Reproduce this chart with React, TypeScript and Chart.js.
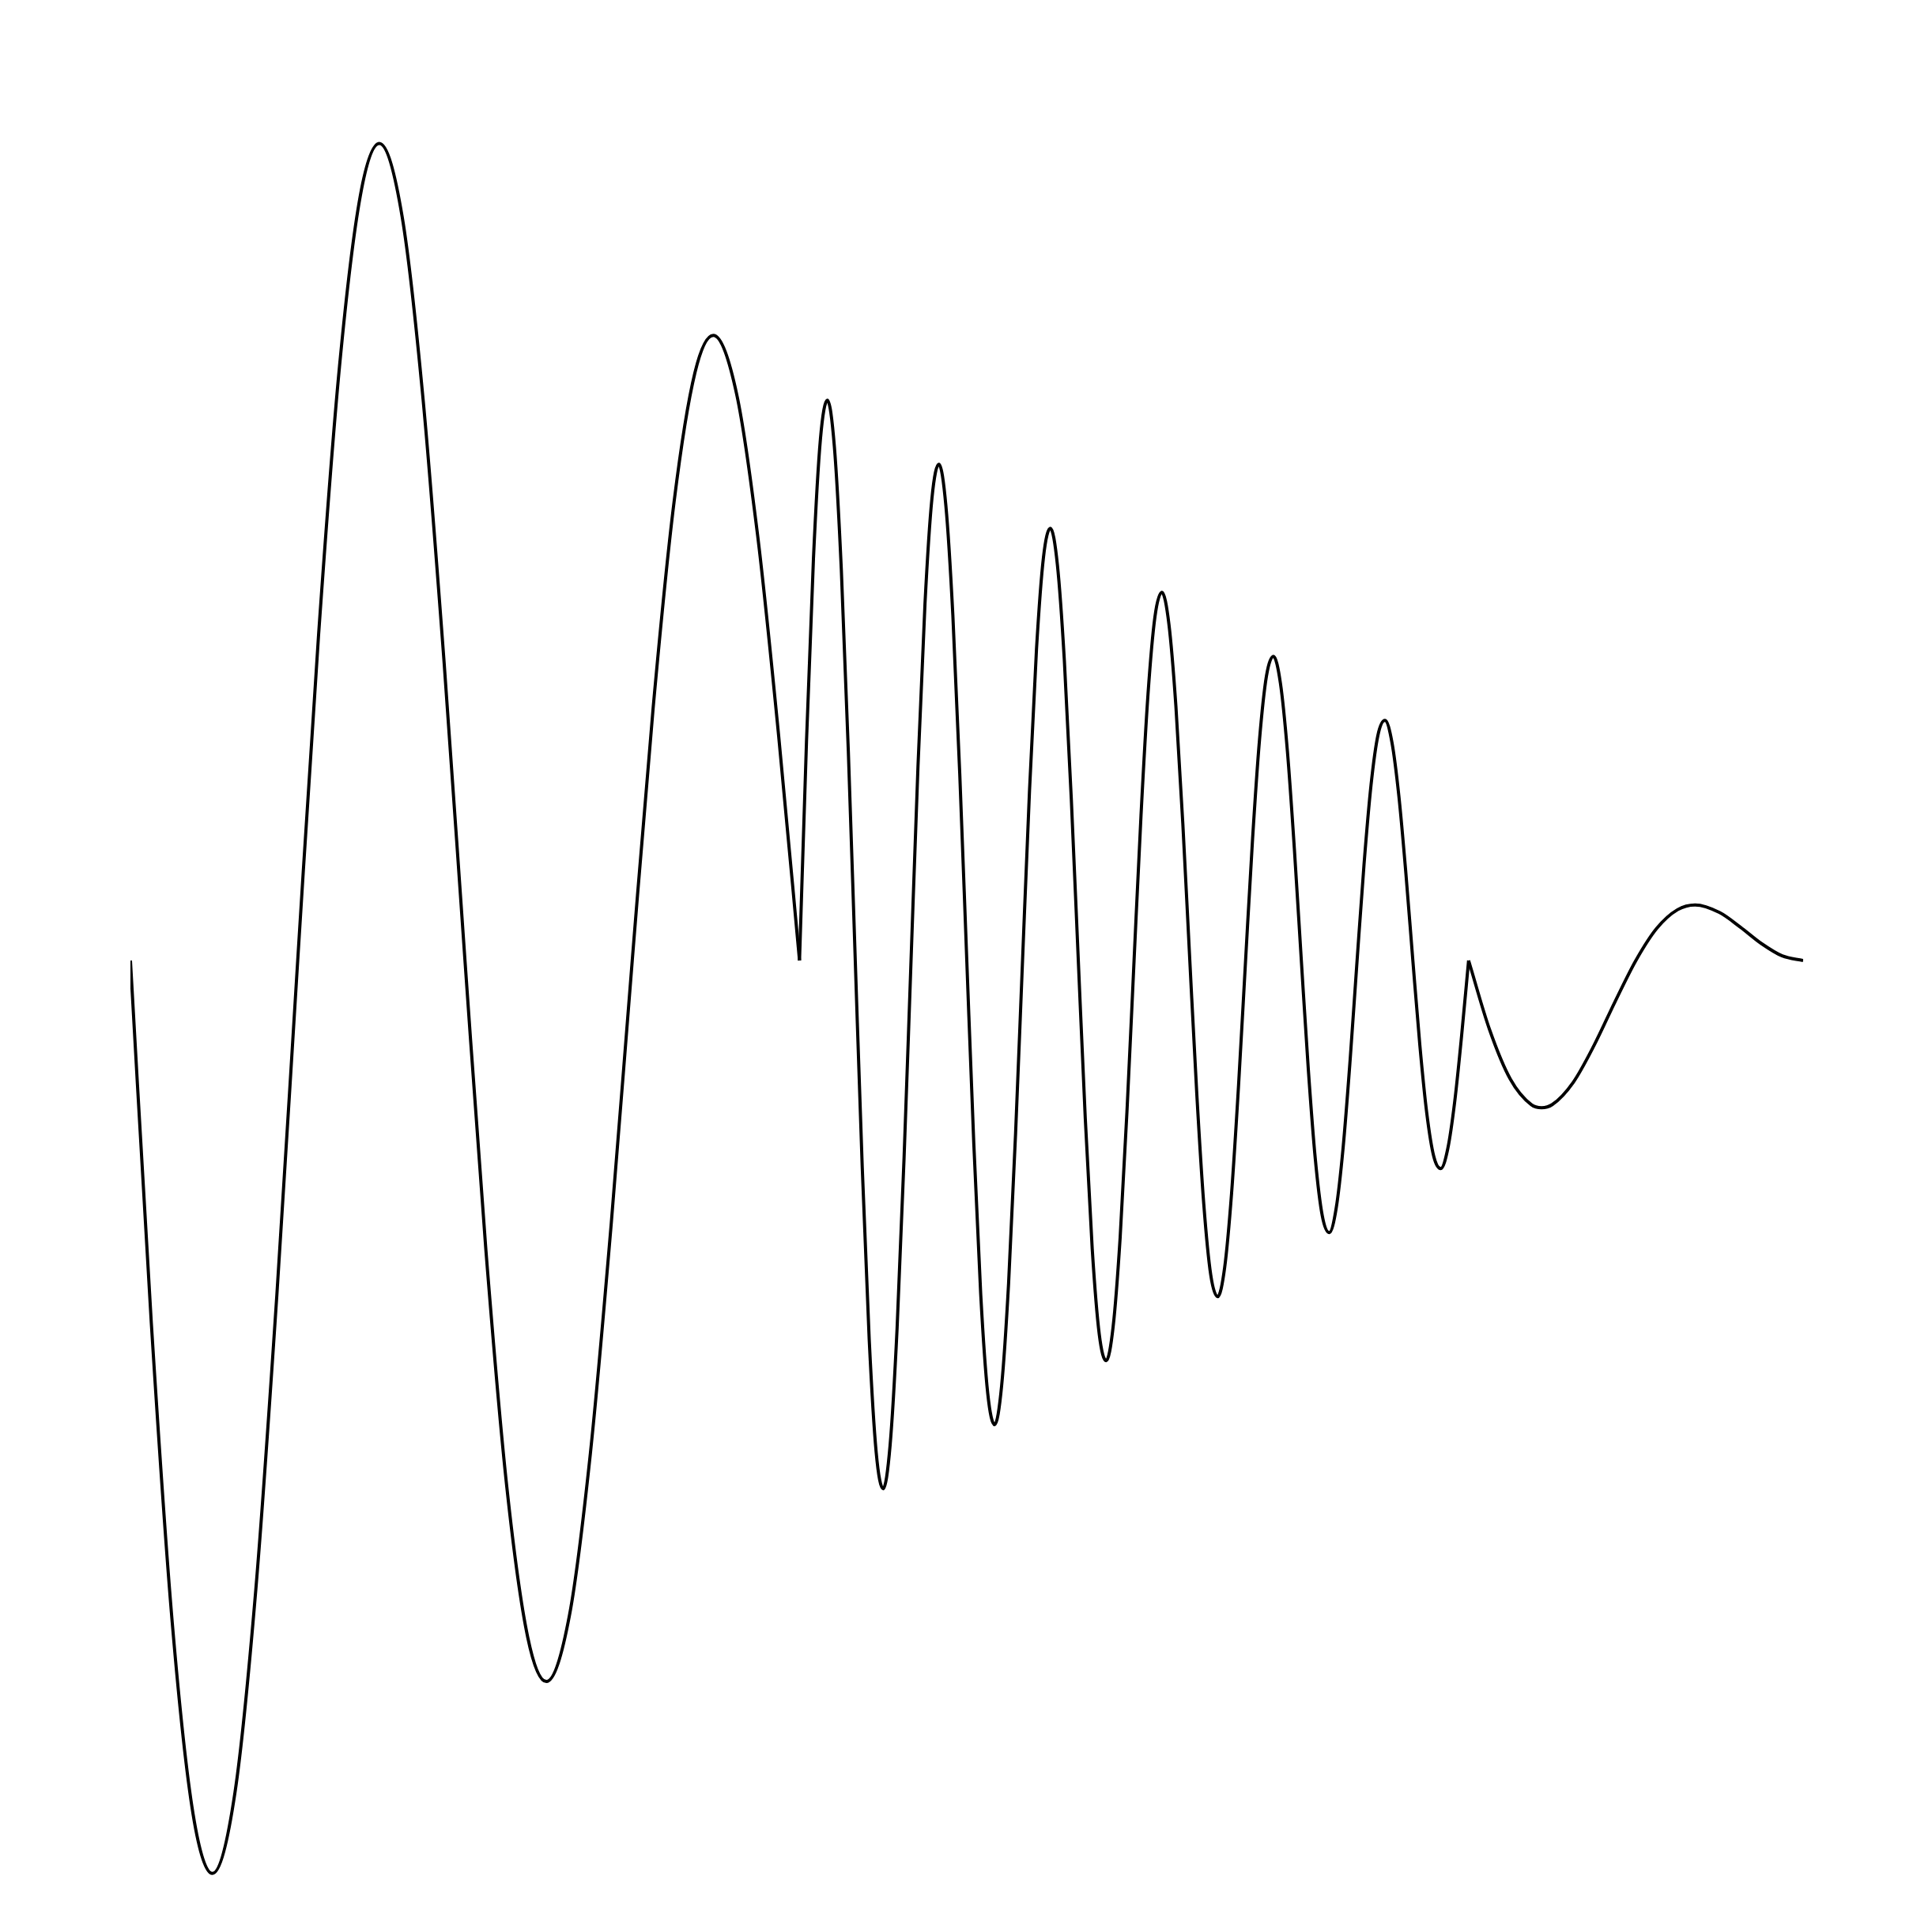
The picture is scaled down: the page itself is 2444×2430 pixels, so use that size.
import React, { useEffect, useRef } from "react";
import { Chart, registerables } from "chart.js";

Chart.register(...registerables);

// First stretch: slow oscillation (time, amplitude)
const SEG1_X = [
  0, 0.125, 0.25, 0.375, 0.4893, 0.625, 0.75, 0.875, 1, 1.125, 1.25, 1.375, 1.4881, 1.625, 1.75, 1.875,
  2, 2.125, 2.25, 2.375, 2.4865, 2.625, 2.75, 2.875, 3, 3.125, 3.25, 3.375, 3.4844, 3.625, 3.75, 3.875, 4,
];
const SEG1_Y = [
  0, -0.3779, -0.6894, -0.8892, -0.9505, -0.8662, -0.6541, -0.3492, 0, 0.3396, 0.6187, 0.7969, 0.8506, 0.7738, 0.5834, 0.3109,
  0, -0.3014, -0.548, -0.7045, -0.7507, -0.6814, -0.5127, -0.2727, 0, 0.2631, 0.4773, 0.6121, 0.6508, 0.589, 0.4419, 0.2344, 0,
];

// Second stretch: fast oscillation
const SEG2_X = [
  4, 4.0417, 4.0833, 4.125, 4.1667, 4.2083, 4.25, 4.2917, 4.3333, 4.375, 4.4167, 4.4583,
  4.5, 4.5417, 4.5833, 4.625, 4.6667, 4.7083, 4.75, 4.7917, 4.8333, 4.875, 4.9167, 4.9583,
  5, 5.0417, 5.0833, 5.125, 5.1667, 5.2083, 5.25, 5.2917, 5.3333, 5.375, 5.4167, 5.4583,
  5.5, 5.5417, 5.5833, 5.625, 5.6667, 5.7083, 5.75, 5.7917, 5.8333, 5.875, 5.9167, 5.9583,
  6, 6.0417, 6.0833, 6.125, 6.1667, 6.2083, 6.25, 6.2917, 6.3333, 6.375, 6.4167, 6.4583,
  6.5, 6.5417, 6.5833, 6.625, 6.6667, 6.7083, 6.75, 6.7917, 6.8333, 6.875, 6.9167, 6.9583,
  7, 7.0417, 7.0833, 7.125, 7.1667, 7.2083, 7.25, 7.2917, 7.3333, 7.375, 7.4167, 7.4583,
  7.5, 7.5417, 7.5833, 7.625, 7.6667, 7.7083, 7.75, 7.7917, 7.8333, 7.875, 7.9167, 7.9583,
  8,
];
const SEG2_Y = [
  0, 0.228, 0.4184, 0.5428, 0.5833, 0.5351, 0.4066, 0.2185, 0, -0.2153, -0.3948, -0.512,
  -0.55, -0.5043, -0.383, -0.2057, 0, 0.2025, 0.3712, 0.4812, 0.5167, 0.4735, 0.3594, 0.1929,
  0, -0.1898, -0.3477, -0.4504, -0.4833, -0.4427, -0.3359, -0.1802, 0, 0.177, 0.3241, 0.4196,
  0.45, 0.4119, 0.3123, 0.1674, 0, -0.1642, -0.3005, -0.3888, -0.4167, -0.3811, -0.2887, -0.1547,
  0, 0.1515, 0.277, 0.358, 0.3833, 0.3503, 0.2652, 0.1419, 0, -0.1387, -0.2534, -0.3272,
  -0.35, -0.3195, -0.2416, -0.1292, 0, 0.126, 0.2298, 0.2964, 0.3167, 0.2887, 0.218, 0.1164,
  0, -0.1132, -0.2062, -0.2656, -0.2833, -0.2579, -0.1945, -0.1036, 0, 0.1005, 0.1827, 0.2348,
  0.25, 0.2271, 0.1709, 0.0909, 0, -0.0877, -0.1591, -0.204, -0.2167, -0.1963, -0.1473, -0.0781,
  0,
];

// Third stretch: slow tail
const SEG3_X = [8, 8.125, 8.25, 8.375, 8.436, 8.5, 8.625, 8.75, 8.875, 9, 9.125, 9.25, 9.354, 9.5, 9.625, 9.75, 9.875, 10];
const SEG3_Y = [0, -0.0718, -0.1237, -0.1501, -0.1533, -0.15, -0.127, -0.0884, -0.0431, 0, 0.0335, 0.053, 0.0579, 0.05, 0.0347, 0.0177, 0.0048, 0];

const X_MIN = 0;
const X_MAX = 10;
const Y_MIN = -1;
const Y_MAX = 1;

function toPoints(xs: number[], ys: number[]) {
  return xs.map((x, i) => ({ x, y: ys[i] }));
}

export default function App() {
  const canvasRef = useRef<HTMLCanvasElement | null>(null);

  useEffect(() => {
    const canvas = canvasRef.current;
    if (!canvas) return;
    const common = {
      borderColor: "#000000",
      borderWidth: 4,
      pointRadius: 0,
      pointHoverRadius: 0,
      fill: false,
      tension: 0.4,
      cubicInterpolationMode: "monotone" as const,
      borderJoinStyle: "round" as const,
    };
    const chart = new Chart(canvas, {
      type: "line",
      data: {
        datasets: [
          { ...common, data: toPoints(SEG1_X, SEG1_Y) },
          { ...common, data: toPoints(SEG2_X, SEG2_Y) },
          { ...common, data: toPoints(SEG3_X, SEG3_Y) },
        ],
      },
      options: {
        animation: false,
        responsive: true,
        maintainAspectRatio: false,
        devicePixelRatio: 1,
        layout: { padding: { left: 165, right: 163, top: 0, bottom: 0 } },
        plugins: { legend: { display: false }, tooltip: { enabled: false }, title: { display: false } },
        scales: {
          x: { type: "linear", min: X_MIN, max: X_MAX, display: false },
          y: { type: "linear", min: Y_MIN, max: Y_MAX, display: false },
        },
      },
    });
    return () => chart.destroy();
  }, []);

  return (
    <div style={{ position: "fixed", left: 0, top: 0, width: 2444, height: 2430, background: "#ffffff" }}>
      <canvas ref={canvasRef} />
    </div>
  );
}
